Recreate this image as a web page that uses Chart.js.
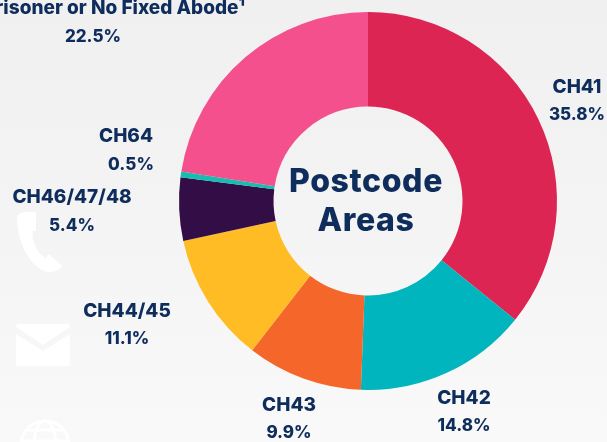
<!DOCTYPE html>
<html>
<head>
<meta charset="utf-8">
<script src="https://cdn.jsdelivr.net/npm/chart.js@4"></script>
<style>
    html, body { margin: 0; padding: 0; width: 607px; height: 442px; overflow: hidden; }
    body { background: linear-gradient(#f0f0f0, #f3f3f3 40%, #f9f9f9); position: relative; }
    #icons { position: absolute; left: 0; top: 0; }
    #wrap { position: absolute; left: 0; top: 0; width: 607px; height: 442px; }
</style>
</head>
<body>
<svg id="icons" width="607" height="442" fill="#ffffff">
    <path d="M17 218 C17 213 24 211 34 212 L36 212 L36 231 L33 231 C31 240 37 254 46 258 L49 254 L62 266 C58 272 50 273 44 271 C28 264 17 240 17 218 Z"/>
    <path d="M19 324 H67 C69 324 70 325 70 327 L43 345 L16 327 C16 325 17 324 19 324 Z"/>
    <path d="M16 334 L43 351 L70 334 V364 C70 365 69 366 67 366 H19 C17 366 16 365 16 364 Z"/>
    <g fill="none" stroke="#ffffff" stroke-width="3">
        <circle cx="45" cy="445" r="24"/>
        <ellipse cx="45" cy="445" rx="11" ry="24"/>
        <path d="M27 430 H63 M21 441 H69"/>
    </g>
</svg>
<div id="wrap"><canvas id="grafico"></canvas></div>
<script>
const categories = ['CH41', 'CH42', 'CH43', 'CH44/45', 'CH46/47/48', 'CH64', 'Prisoner or No Fixed Abode\u00B9'];
const values = [35.8, 14.8, 9.9, 11.1, 5.4, 0.5, 22.5];
const colors = ['#dc2553', '#00b5bd', '#f4662a', '#ffbc25', '#330e46', '#17bdb0', '#f4508d'];
const centerLines = ['Postcode', 'Areas'];

// x of name, y of name, x of value, y of value
const labelPlaces = [
    [577, 87, 577, 115],
    [464, 398, 464, 426],
    [289, 405, 289, 433],
    [127, 311, 127, 339],
    [72, 197, 72, 226],
    [126, 136, 131, 165],
    [114, 8, 93, 37]
];

const NAVY = '#0f2d5c';

const textPlugin = {
    id: 'textPlugin',
    afterDraw(chart) {
        const ctx = chart.ctx;
        const arc = chart.getDatasetMeta(0).data[0];
        ctx.save();
        ctx.fillStyle = NAVY;
        ctx.textAlign = 'center';
        ctx.textBaseline = 'middle';
        categories.forEach((name, i) => {
            const p = labelPlaces[i];
            ctx.font = '800 19px Inter';
            ctx.fillText(name, p[0], p[1]);
            ctx.font = '800 17px Inter';
            ctx.fillText(values[i].toFixed(1) + '%', p[2], p[3]);
        });
        ctx.font = '800 32px Inter';
        ctx.letterSpacing = '0.6px';
        ctx.fillText(centerLines[0], arc.x - 2, arc.y - 19);
        ctx.fillText(centerLines[1], arc.x - 2, arc.y + 20);
        ctx.restore();
    }
};

new Chart(document.getElementById('grafico'), {
    type: 'doughnut',
    data: {
        labels: categories,
        datasets: [{
            data: values,
            backgroundColor: colors,
            borderWidth: 0
        }]
    },
    options: {
        responsive: true,
        maintainAspectRatio: false,
        animation: false,
        cutout: '50%',
        layout: { padding: { left: 179, right: 50, top: 12, bottom: 52 } },
        plugins: {
            legend: { display: false },
            tooltip: { enabled: false }
        }
    },
    plugins: [textPlugin]
});
</script>
</body>
</html>
